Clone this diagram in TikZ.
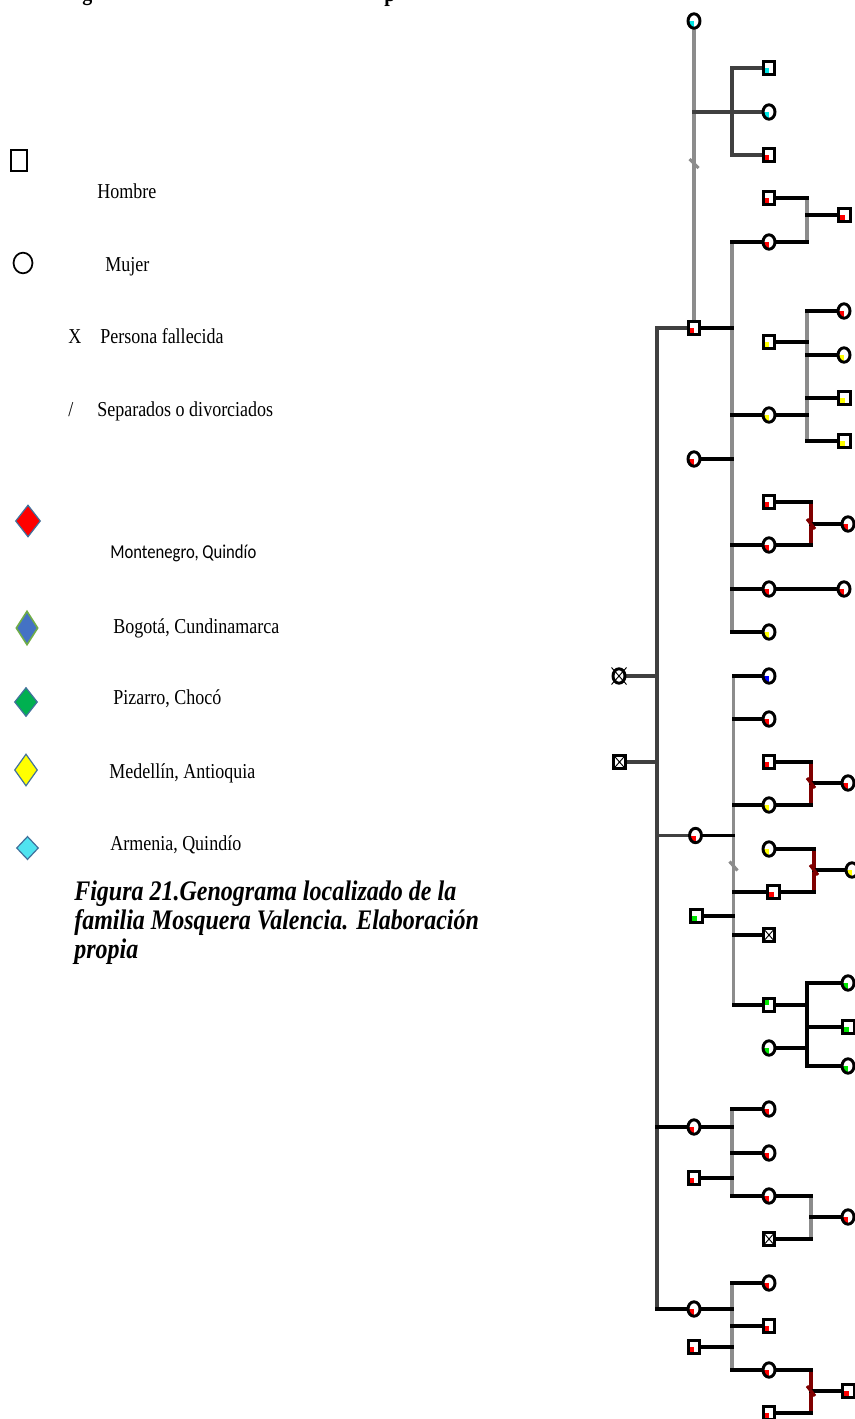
\documentclass[tikz,border=0pt]{standalone}
\usepackage{fontspec}
\setmainfont{Liberation Serif}
\newfontfamily\calfont{Carlito}
\usetikzlibrary{shapes.geometric}
\pgfdeclarelayer{background}
\pgfsetlayers{background,main}
\definecolor{lgray}{HTML}{8C8C8C}
\definecolor{dgray}{HTML}{404040}
\definecolor{dred}{HTML}{800000}
\definecolor{qred}{HTML}{FF0000}
\definecolor{qyel}{HTML}{FFFF00}
\definecolor{qgrn}{HTML}{00E600}
\definecolor{qblu}{HTML}{0000FF}
\definecolor{qcya}{HTML}{00E5E5}
\definecolor{dmblue}{HTML}{41719C}
\definecolor{dmfill}{HTML}{4472C4}
\definecolor{dmgreen}{HTML}{70AD47}
\definecolor{dmgrn}{HTML}{00B050}
\definecolor{dmcya}{HTML}{4FE3F0}
\newcommand{\vstr}[1]{\scalebox{1}[1.18]{#1}}
\tikzset{
  person/.style={draw=black, line width=2.2pt, fill=white, inner sep=0pt, outer sep=0pt},
  male/.style={person, rectangle, minimum width=8.6pt, minimum height=9.8pt},
  female/.style={person, ellipse, minimum width=9pt, minimum height=10.8pt},
  qbl/.style={path picture={\fill[#1] (path picture bounding box.center) rectangle (path picture bounding box.south west);}},
  qtl/.style={path picture={\fill[#1] (path picture bounding box.center) rectangle (path picture bounding box.north west);}},
  dead/.style={path picture={\draw[line width=0.7pt] (path picture bounding box.north west) -- (path picture bounding box.south east) (path picture bounding box.north east) -- (path picture bounding box.south west);}},
  xline/.style={draw=black, line width=0.7pt},
  bk/.style={draw=black, line width=2.3pt, line cap=rect},
  dg/.style={draw=dgray, line width=2.3pt, line cap=rect},
  lg/.style={draw=lgray, line width=2.3pt, line cap=rect},
  dr/.style={draw=dred, line width=2.3pt, line cap=rect},
  leg/.style={anchor=base west, inner sep=0pt, font=\fontsize{13.5pt}{16pt}\selectfont},
  capt/.style={anchor=base west, inner sep=0pt, font=\fontsize{18pt}{21pt}\selectfont\bfseries\itshape},
  gem/.style={diamond, inner sep=0pt, line width=0.9pt, draw=dmblue},
}
\begin{document}
\begin{tikzpicture}[x=0.75pt,y=-0.75pt]
\useasboundingbox (0,0) rectangle (854,1419);
% clipped title fragments
\node[anchor=base west, inner sep=0pt, font=\fontsize{15pt}{18pt}\selectfont\bfseries] (tg) at (82,0.5) {\vstr{g}};
\node[anchor=base west, inner sep=0pt, font=\fontsize{15pt}{18pt}\selectfont\bfseries] (tp) at (384,1.5) {\vstr{p}};
% ---------- legend ----------
\node[draw=black, line width=1.5pt, minimum width=12pt, minimum height=15.75pt, inner sep=0pt] (lsq) at (19,160.5) {};
\node[draw=black, line width=1.3pt, ellipse, minimum width=14.2pt, minimum height=15.5pt, inner sep=0pt] (lci) at (23,263) {};
\node[leg] (tH) at (97,199) {\vstr{Hombre}};
\node[leg] (tM) at (105,272) {\vstr{Mujer}};
\node[leg] (tX) at (68,343) {\vstr{X}};
\node[leg] (tP) at (100,343) {\vstr{Persona fallecida}};
\node[leg] (tSl) at (68,416) {\vstr{/}};
\node[leg] (tS) at (97,416) {\vstr{Separados o divorciados}};
\node[gem, fill=qred, minimum width=18.75pt, minimum height=24pt] (dR) at (28,521) {};
\node[leg, font=\calfont\fontsize{12.5pt}{15pt}\selectfont] (tMo) at (110,558) {\vstr{Montenegro, Quindío}};
\node[gem, fill=dmfill, draw=dmgreen, line width=1.2pt, minimum width=16.5pt, minimum height=25.5pt] (dB) at (27,628) {};
\node[leg] (tB) at (113,633) {\vstr{Bogotá, Cundinamarca}};
\node[gem, fill=dmgrn, minimum width=17.25pt, minimum height=21.75pt] (dG) at (26,702) {};
\node[leg] (tPi) at (113,704) {\vstr{Pizarro, Chocó}};
\node[gem, fill=qyel, minimum width=17.25pt, minimum height=24pt] (dY) at (26,770) {};
\node[leg] (tMe) at (109,778) {\vstr{Medellín, Antioquia}};
\node[gem, fill=dmcya, minimum width=16.5pt, minimum height=17.5pt] (dC) at (27.5,848) {};
\node[leg] (tA) at (110,850) {\vstr{Armenia, Quindío}};
\node[capt] (cap1) at (74,900) {\vstr{Figura 21.Genograma localizado de la}};
\node[capt] (cap2) at (74,929) {\vstr{familia Mosquera Valencia. Elaboración}};
\node[capt] (cap3) at (74,958) {\vstr{propia}};
% ---------- genogram persons ----------
\node[female] (ga) at (619,676) {};
\draw[xline] ([shift={(-7.5,-8.5)}]ga.center) -- ([shift={(7.5,8.5)}]ga.center);
\draw[xline] ([shift={(7.5,-8.5)}]ga.center) -- ([shift={(-7.5,8.5)}]ga.center);
\node[male, dead] (gb) at (619.5,762) {};
\node[female, qbl=qcya] (c1) at (694,21) {};
\node[male, qbl=qred] (s1) at (694,328) {};
\node[female, qbl=qred] (w1) at (694,459) {};
\node[female, qbl=qred] (w2) at (695.5,835.5) {};
\node[male, qbl=qgrn] (h2) at (696.5,916) {};
\node[female, qbl=qred] (w3) at (694,1127) {};
\node[male, qbl=qred] (h3) at (694,1178) {};
\node[female, qbl=qred] (w4) at (694,1309) {};
\node[male, qbl=qred] (h4) at (694,1347) {};
\node[male, qbl=qcya] (k1) at (769,68) {};
\node[female, qbl=qcya] (k2) at (769,112) {};
\node[male, qbl=qred] (k3) at (769,155) {};
\node[male, qbl=qred] (m1) at (769,198) {};
\node[female, qbl=qred] (d1) at (769,242) {};
\node[male, qbl=qyel] (m2) at (769,342) {};
\node[female, qbl=qyel] (d2) at (769,415) {};
\node[male, qbl=qred] (m3) at (769,502) {};
\node[female, qbl=qred] (d3) at (769,545) {};
\node[female, qbl=qred] (d4) at (769,589) {};
\node[female, qbl=qyel] (d5) at (769,632) {};
\node[female, qbl=qblu] (e1) at (769,676) {};
\node[female, qbl=qred] (e2) at (769,719) {};
\node[male, qbl=qred] (e3) at (769,762) {};
\node[female, qbl=qyel] (e4) at (769,805) {};
\node[female, qbl=qyel] (e5) at (769,849) {};
\node[male, qbl=qred] (e6) at (773.5,892) {};
\node[male, dead] (e7) at (769,935) {};
\node[male, qtl=qgrn] (e8) at (769,1005) {};
\node[female, qbl=qgrn] (e9) at (769,1048) {};
\node[female, qbl=qred] (f1) at (769,1109) {};
\node[female, qbl=qred] (f2) at (769,1153) {};
\node[female, qbl=qred] (f3) at (769,1196) {};
\node[male, dead] (f4) at (769,1239) {};
\node[female, qbl=qred] (p1) at (769,1283) {};
\node[male, qbl=qred] (p2) at (769,1326) {};
\node[female, qbl=qred] (p3) at (769,1370) {};
\node[male, qbl=qred] (p4) at (769,1413) {};
\node[male, qbl=qred] (n1) at (844.5,215) {};
\node[female, qbl=qred] (n2) at (844,311) {};
\node[female, qbl=qyel] (n3) at (844,355) {};
\node[male, qbl=qyel] (n4) at (844.5,398) {};
\node[male, qbl=qyel] (n5) at (844.5,441) {};
\node[female, qbl=qred] (n6) at (848,524) {};
\node[female, qbl=qred] (n7) at (844,589) {};
\node[female, qbl=qred] (n8) at (848,783) {};
\node[female, qbl=qyel] (n9) at (852,870) {};
\node[female, qbl=qgrn] (n10) at (848,983) {};
\node[male, qbl=qgrn] (n11) at (848.5,1027) {};
\node[female, qbl=qgrn] (n12) at (848,1066) {};
\node[female, qbl=qred] (n13) at (848,1217) {};
\node[male, qbl=qred] (n14) at (848.5,1391) {};
% ---------- bracket columns ----------
\coordinate (tr) at (657,0);
\coordinate (bA) at (732,0);
\coordinate (bB) at (807,0);
\coordinate (bC) at (811,0);
\coordinate (bD) at (733.5,0);
\coordinate (bE) at (814,0);
\coordinate (sl1) at (694,163.5);
\coordinate (sl2) at (733.5,866);
\begin{pgfonlayer}{background}
% top couple c1 - s1
\draw[lg] (c1) -- (s1);
\draw[lg, line cap=butt] ([shift={(-4.5,-4.5)}]sl1) -- ([shift={(4.5,4.5)}]sl1);
\draw[dg] (c1 |- k2) -- (k2);
\draw[dg] (k1) -- (k1 -| bA);
\draw[dg] (k3) -- (k3 -| bA);
\draw[dg] (k1 -| bA) -- (k3 -| bA);
% trunk
\draw[dg] (s1 -| tr) -- (w4 -| tr);
\draw[dg] (s1) -- (s1 -| tr);
\draw[dg] (ga) -- (ga -| tr);
\draw[dg] (gb) -- (gb -| tr);
\draw[dg] (w2) -- (w2 -| tr);
\draw[bk] (w3) -- (w3 -| tr);
\draw[bk] (w4) -- (w4 -| tr);
% family s1 + w1
\draw[lg] (d1 -| bA) -- (d5 -| bA);
\draw[bk] (s1) -- (s1 -| bA);
\draw[bk] (w1) -- (w1 -| bA);
\foreach \c in {d1,d2,d3,d4,d5} \draw[bk] (\c -| bA) -- (\c);
% m1 + d1
\draw[lg] (m1 -| bB) -- (d1 -| bB);
\draw[bk] (m1) -- (m1 -| bB);
\draw[bk] (d1) -- (d1 -| bB);
\draw[bk] (n1 -| bB) -- (n1);
% m2 + d2
\draw[lg] (n2 -| bB) -- (n5 -| bB);
\draw[bk] (m2) -- (m2 -| bB);
\draw[bk] (d2) -- (d2 -| bB);
\foreach \c in {n2,n3,n4,n5} \draw[bk] (\c -| bB) -- (\c);
% m3 + d3 (separated)
\draw[dr] (m3 -| bC) -- (d3 -| bC);
\draw[bk] (m3) -- (m3 -| bC);
\draw[bk] (d3) -- (d3 -| bC);
\draw[bk] (n6 -| bC) -- (n6);
\draw[dr, line cap=butt] ([shift={(-4,-5)}]n6 -| bC) -- ([shift={(4,5)}]n6 -| bC);
% d4 - n7
\draw[bk] (d4) -- (n7);
% family w2 + h2 (separated)
\draw[lg] (e1 -| bD) -- (e8 -| bD);
\draw[lg, line cap=butt] ([shift={(-4,-4.5)}]sl2) -- ([shift={(4,4.5)}]sl2);
\draw[bk] (w2) -- (w2 -| bD);
\draw[bk] (h2) -- (h2 -| bD);
\foreach \c in {e1,e2,e4,e6,e7,e8} \draw[bk] (\c -| bD) -- (\c);
% e3 + e4 (separated)
\draw[dr] (e3 -| bC) -- (e4 -| bC);
\draw[bk] (e3) -- (e3 -| bC);
\draw[bk] (e4) -- (e4 -| bC);
\draw[bk] (n8 -| bC) -- (n8);
\draw[dr, line cap=butt] ([shift={(-4,-5)}]n8 -| bC) -- ([shift={(4,5)}]n8 -| bC);
% e5 + e6 (separated)
\draw[dr] (e5 -| bE) -- (e6 -| bE);
\draw[bk] (e5) -- (e5 -| bE);
\draw[bk] (e6) -- (e6 -| bE);
\draw[bk] (n9 -| bE) -- (n9);
\draw[dr, line cap=butt] ([shift={(-4,-5)}]n9 -| bE) -- ([shift={(4,5)}]n9 -| bE);
% e8 + e9
\draw[bk] (n10 -| bB) -- (n12 -| bB);
\draw[bk] (e8) -- (e8 -| bB);
\draw[bk] (e9) -- (e9 -| bB);
\foreach \c in {n10,n11,n12} \draw[bk] (\c -| bB) -- (\c);
% family w3 + h3
\draw[lg] (f1 -| bA) -- (f3 -| bA);
\draw[bk] (w3) -- (w3 -| bA);
\draw[bk] (h3) -- (h3 -| bA);
\foreach \c in {f1,f2,f3} \draw[bk] (\c -| bA) -- (\c);
% f3 + f4
\draw[lg] (f3 -| bC) -- (f4 -| bC);
\draw[bk] (f3) -- (f3 -| bC);
\draw[bk] (f4) -- (f4 -| bC);
\draw[bk] (n13 -| bC) -- (n13);
% family w4 + h4
\draw[lg] (p1 -| bA) -- (p3 -| bA);
\draw[bk] (w4) -- (w4 -| bA);
\draw[bk] (h4) -- (h4 -| bA);
\foreach \c in {p1,p2,p3} \draw[bk] (\c -| bA) -- (\c);
% p3 + p4 (separated)
\draw[dr] (p3 -| bC) -- (p4 -| bC);
\draw[bk] (p3) -- (p3 -| bC);
\draw[bk] (p4) -- (p4 -| bC);
\draw[bk] (n14 -| bC) -- (n14);
\draw[dr, line cap=butt] ([shift={(-4,-5)}]n14 -| bC) -- ([shift={(4,5)}]n14 -| bC);
\end{pgfonlayer}
\end{tikzpicture}
\end{document}
